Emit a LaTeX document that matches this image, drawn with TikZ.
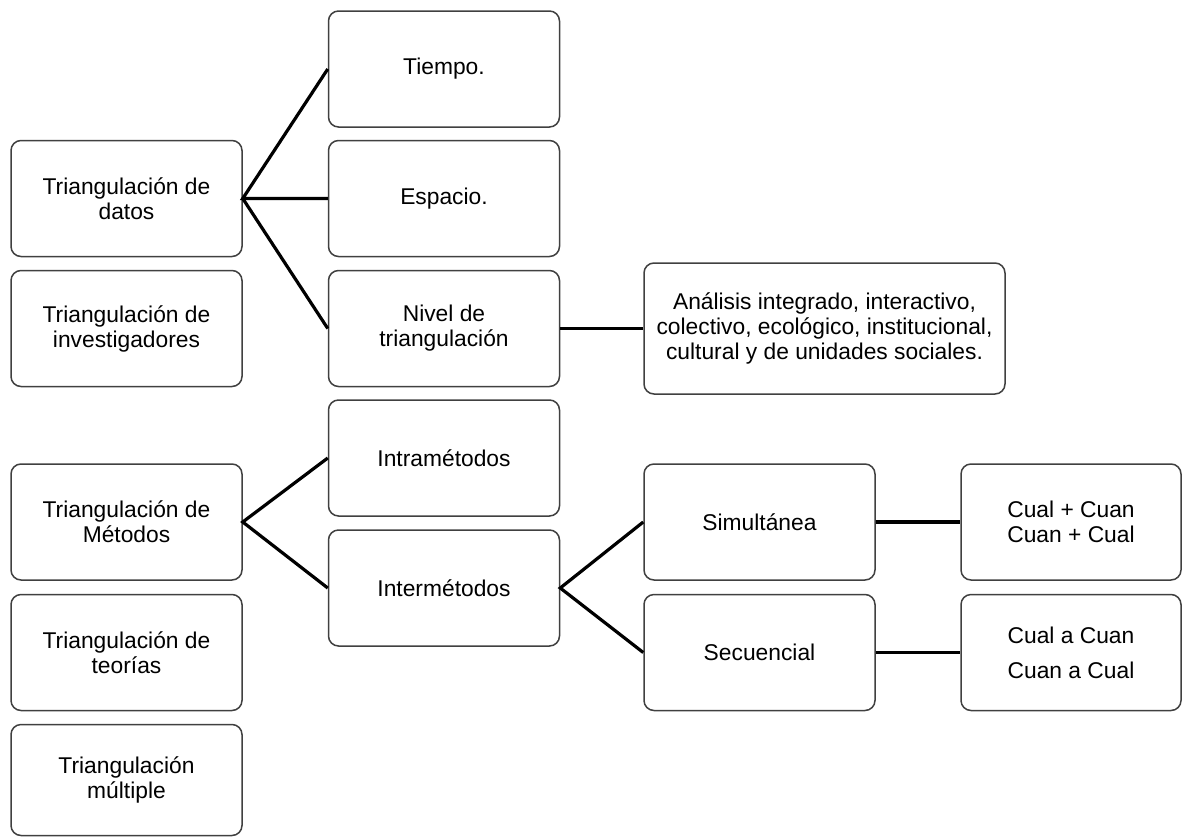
\documentclass[tikz,border=0pt]{standalone}
\usepackage{fontspec}
\setmainfont{Liberation Sans}
\begin{document}
\begin{tikzpicture}[x=1pt,y=-1pt,
  box/.style={draw=black!75, line width=1.5pt, rounded corners=10pt, fill=white,
    align=center, inner sep=0pt, font=\fontsize{22.8}{25}\selectfont},
  wbox/.style={box, minimum width=231pt, minimum height=116pt},
  link/.style={line width=3.2pt, black}]
\useasboundingbox (0,0) rectangle (1191,838);

% left column
\node[wbox] (datos)    at (126.5,198.5) {Triangulación de\\datos};
\node[wbox] (invest)   at (126.5,328.5) {Triangulación de\\investigadores};
\node[wbox] (metodos)  at (126.5,522)   {Triangulación de\\Métodos};
\node[wbox] (teorias)  at (126.5,652.5) {Triangulación de\\teorías};
\node[wbox, minimum height=111pt] (multiple) at (126.5,780) {Triangulación\\múltiple};

% second column
\node[wbox] (tiempo)  at (444,69)    {Tiempo.};
\node[wbox] (espacio) at (444,198.5) {Espacio.};
\node[wbox] (nivel)   at (444,328.5) {Nivel de\\triangulación};
\node[wbox] (intra)   at (444,458)   {Intramétodos};
\node[wbox] (inter)   at (444,588)   {Intermétodos};

% third column
\node[box, minimum width=361pt, minimum height=131pt] (analisis) at (824.5,328.5)
  {Análisis integrado, interactivo,\\colectivo, ecológico, institucional,\\cultural y de unidades sociales.};
\node[wbox] (simul)  at (759.5,522)   {Simultánea};
\node[wbox] (secuen) at (759.5,652.5) {Secuencial};

% fourth column
\node[wbox, minimum width=220pt] (cualmas) at (1071,522)   {Cual + Cuan\\Cuan + Cual};
\node[wbox, minimum width=220pt] (cuala)   at (1071,652.5) {Cual a Cuan\\[10pt]Cuan a Cual};

% connectors
\draw[link] (tiempo.west) -- (datos.east) -- (espacio.west);
\draw[link] (datos.east) -- (nivel.west);
\draw[link] (nivel.east) -- (analisis.west);
\draw[link] (intra.west) -- (metodos.east) -- (inter.west);
\draw[link] (simul.west) -- (inter.east) -- (secuen.west);
\draw[link] (simul.east) -- (cualmas.west);
\draw[link] (secuen.east) -- (cuala.west);
\end{tikzpicture}
\end{document}
